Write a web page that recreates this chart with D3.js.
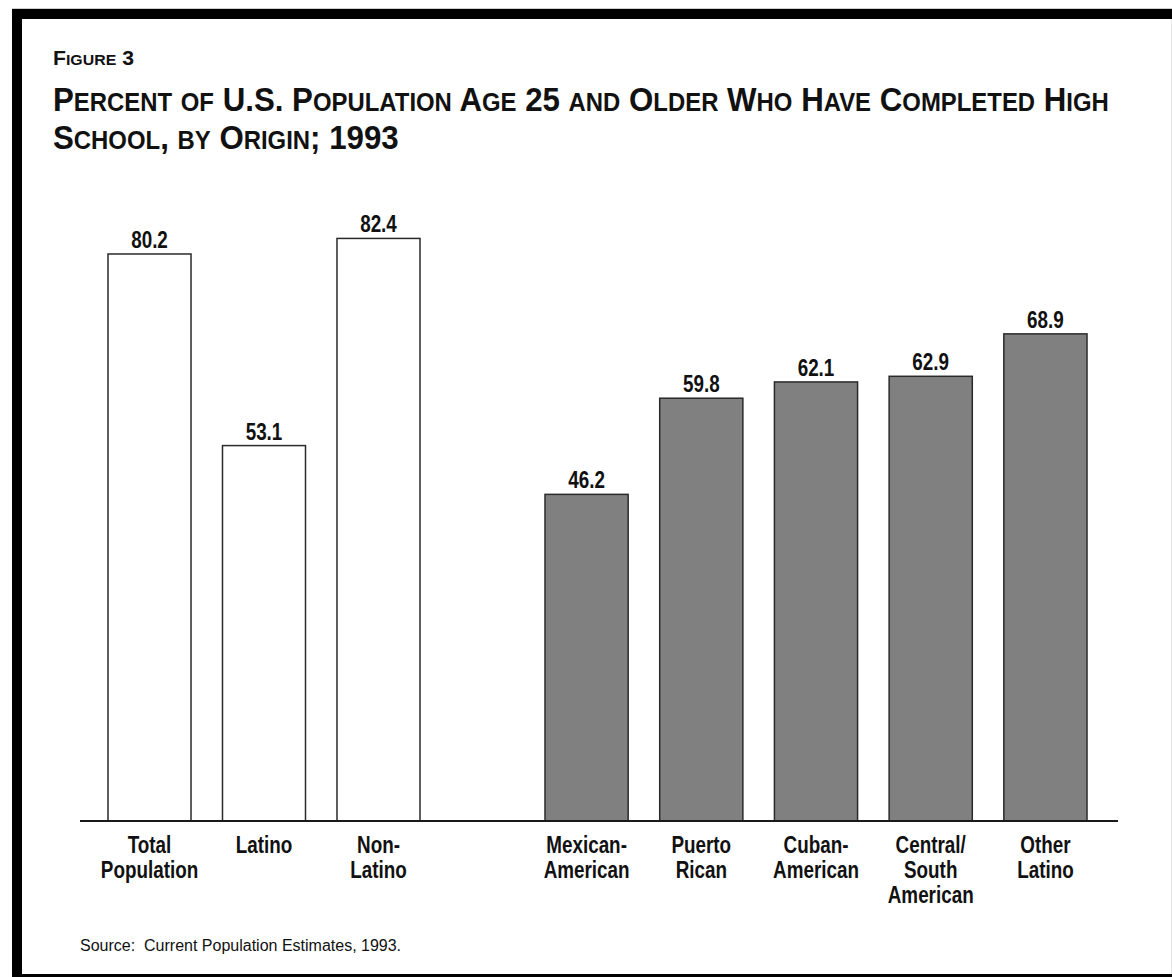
<!DOCTYPE html>
<html>
<head>
<meta charset="utf-8">
<script src="https://cdn.jsdelivr.net/npm/d3@7"></script>
<style>
  html, body { margin: 0; padding: 0; background: #fff; }
  svg { display: block; }
</style>
</head>
<body>
<svg id="chart" width="1172" height="977"></svg>
<script>
// Percent of population 25+ who completed high school, 1993
const overallCategories = [["Total", "Population"], ["Latino"], ["Non-", "Latino"]];
const overallValues = [80.2, 53.1, 82.4];
const originCategories = [["Mexican-", "American"], ["Puerto", "Rican"], ["Cuban-", "American"], ["Central/", "South", "American"], ["Other", "Latino"]];
const originValues = [46.2, 59.8, 62.1, 62.9, 68.9];

const figureLabel = "Figure 3";
const titleLines = ["Percent of U.S. Population Age 25 and Older Who Have Completed High", "School, by Origin; 1993"];
const sourceNote = "Source:  Current Population Estimates, 1993.";

const sans = "'Liberation Sans', Arial, Helvetica, sans-serif";
const condense = 0.82;   // horizontal squeeze giving a condensed bold face

const svg = d3.select("#chart");

// page frame: heavy rule on the left, top and bottom
svg.append("rect").attr("x", 0).attr("y", 0).attr("width", 1172).attr("height", 977).attr("fill", "#fff");
svg.append("line").attr("x1", 12).attr("x2", 1172).attr("y1", 8.5).attr("y2", 8.5).attr("stroke", "#cfcfcf").attr("stroke-width", 1);
svg.append("line").attr("x1", 1171.5).attr("x2", 1171.5).attr("y1", 19).attr("y2", 974).attr("stroke", "#e6e6e6").attr("stroke-width", 1);
svg.append("rect").attr("x", 12).attr("y", 9).attr("width", 1160).attr("height", 10).attr("fill", "#000");
svg.append("rect").attr("x", 12).attr("y", 9).attr("width", 10).attr("height", 968).attr("fill", "#000");
svg.append("rect").attr("x", 12).attr("y", 974).attr("width", 1160).attr("height", 3).attr("fill", "#000");

// small-caps text built from tspans
function smallCaps(sel, str, big, small) {
  const runs = str.match(/[a-z]+|[^a-z]+/g);
  runs.forEach(r => {
    const lower = /^[a-z]/.test(r);
    sel.append("tspan")
      .attr("font-size", lower ? small : big)
      .text(lower ? r.toUpperCase() : r);
  });
}

// text placed at (x, y) and squeezed horizontally by sx
function squeezed(parent, x, y, sx) {
  return parent.append("g")
    .attr("transform", `translate(${x},${y}) scale(${sx},1)`)
    .append("text");
}

// fit a text's natural width to a given width by squeezing it
function fitWidth(text, x, y, width) {
  const sx = width / text.node().getComputedTextLength();
  d3.select(text.node().parentNode).attr("transform", `translate(${x},${y}) scale(${sx},1)`);
  return sx;
}

// title block
const titleG = svg.append("g")
  .attr("font-family", sans)
  .attr("font-weight", "bold")
  .attr("fill", "#111");

const figText = squeezed(titleG, 53, 65, 1);
smallCaps(figText, figureLabel, 20, 15);
fitWidth(figText, 53, 65, 81);

const titleY = [111, 148.5];
const titleTexts = titleLines.map((line, i) => {
  const t = squeezed(titleG, 53, titleY[i], 1);
  smallCaps(t, line, 34, 26);
  return t;
});
// the first line spans the frame; the second uses the same squeeze
const titleSx = fitWidth(titleTexts[0], 53, titleY[0], 1056);
d3.select(titleTexts[1].node().parentNode)
  .attr("transform", `translate(53,${titleY[1]}) scale(${titleSx},1)`);

// scales
const y = d3.scaleLinear().domain([0, 100]).range([821, 114]);

const xOverall = d3.scaleBand()
  .domain(d3.range(overallValues.length))
  .range([108, 420])
  .paddingInner(0.275)
  .paddingOuter(0);

const xOrigin = d3.scaleBand()
  .domain(d3.range(originValues.length))
  .range([545, 1087])
  .paddingInner(0.275)
  .paddingOuter(0);

function drawGroup(values, cats, x, fill) {
  const g = svg.append("g");
  g.selectAll("rect")
    .data(values)
    .join("rect")
    .attr("x", (d, i) => x(i))
    .attr("y", d => y(d))
    .attr("width", x.bandwidth())
    .attr("height", d => y(0) - y(d))
    .attr("fill", fill)
    .attr("stroke", "#2a2a2a")
    .attr("stroke-width", 1.5);

  values.forEach((d, i) => {
    squeezed(g, x(i) + x.bandwidth() / 2, y(d) - 6, condense)
      .attr("text-anchor", "middle")
      .attr("font-family", sans)
      .attr("font-weight", "bold")
      .attr("font-size", 23)
      .attr("fill", "#111")
      .text(d.toFixed(1));
  });

  cats.forEach((lines, i) => {
    const t = squeezed(g, x(i) + x.bandwidth() / 2, 853, condense)
      .attr("text-anchor", "middle")
      .attr("font-family", sans)
      .attr("font-weight", "bold")
      .attr("font-size", 23)
      .attr("fill", "#111");
    lines.forEach((ln, j) => {
      t.append("tspan").attr("x", 0).attr("y", j * 25).text(ln);
    });
  });
}

drawGroup(overallValues, overallCategories, xOverall, "#ffffff");
drawGroup(originValues, originCategories, xOrigin, "#808080");

// baseline
svg.append("line")
  .attr("x1", 80).attr("x2", 1118)
  .attr("y1", y(0)).attr("y2", y(0))
  .attr("stroke", "#1a1a1a")
  .attr("stroke-width", 2.2);

// source note (keeps the double space after the colon)
svg.append("text")
  .attr("x", 80).attr("y", 951)
  .attr("font-family", sans)
  .attr("font-size", 16)
  .attr("fill", "#111")
  .style("white-space", "pre")
  .text(sourceNote);
</script>
</body>
</html>
